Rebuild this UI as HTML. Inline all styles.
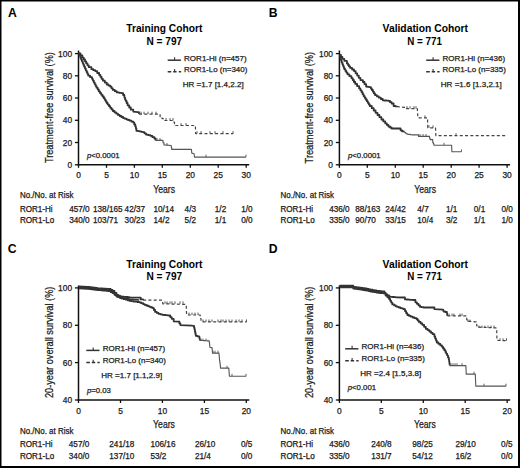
<!DOCTYPE html>
<html><head><meta charset="utf-8"><style>
html,body{margin:0;padding:0;background:#fff;}
#f{position:relative;width:520px;height:468px;overflow:hidden;}
svg{position:absolute;left:0;top:0;font-family:"Liberation Sans", sans-serif;}
</style></head><body><div id="f">
<svg width="520" height="468" viewBox="0 0 520 468">
<rect x="0" y="0" width="520" height="468" fill="#fff"/>
<text x="8.0" y="16.8" font-size="12.2" font-weight="bold" fill="#000">A</text>
<line x1="78.5" y1="50.5" x2="78.5" y2="165.4" stroke="#111" stroke-width="1.5"/>
<line x1="77.8" y1="164.8" x2="249.2" y2="164.8" stroke="#111" stroke-width="1.5"/>
<line x1="74.9" y1="164.8" x2="78.5" y2="164.8" stroke="#111" stroke-width="1.3"/>
<text x="72.1" y="167.8" font-size="8.4" text-anchor="end" fill="#1a1a1a" stroke="#1a1a1a" stroke-width="0.25">0</text>
<line x1="74.9" y1="142.5" x2="78.5" y2="142.5" stroke="#111" stroke-width="1.3"/>
<text x="72.1" y="145.5" font-size="8.4" text-anchor="end" fill="#1a1a1a" stroke="#1a1a1a" stroke-width="0.25">20</text>
<line x1="74.9" y1="120.3" x2="78.5" y2="120.3" stroke="#111" stroke-width="1.3"/>
<text x="72.1" y="123.3" font-size="8.4" text-anchor="end" fill="#1a1a1a" stroke="#1a1a1a" stroke-width="0.25">40</text>
<line x1="74.9" y1="98.0" x2="78.5" y2="98.0" stroke="#111" stroke-width="1.3"/>
<text x="72.1" y="101.0" font-size="8.4" text-anchor="end" fill="#1a1a1a" stroke="#1a1a1a" stroke-width="0.25">60</text>
<line x1="74.9" y1="75.8" x2="78.5" y2="75.8" stroke="#111" stroke-width="1.3"/>
<text x="72.1" y="78.8" font-size="8.4" text-anchor="end" fill="#1a1a1a" stroke="#1a1a1a" stroke-width="0.25">80</text>
<line x1="74.9" y1="53.6" x2="78.5" y2="53.6" stroke="#111" stroke-width="1.3"/>
<text x="72.1" y="56.6" font-size="8.4" text-anchor="end" fill="#1a1a1a" stroke="#1a1a1a" stroke-width="0.25">100</text>
<line x1="78.5" y1="164.8" x2="78.5" y2="167.8" stroke="#111" stroke-width="1.3"/>
<text x="78.5" y="178.4" font-size="8.4" text-anchor="middle" fill="#1a1a1a" stroke="#1a1a1a" stroke-width="0.25">0</text>
<line x1="106.5" y1="164.8" x2="106.5" y2="167.8" stroke="#111" stroke-width="1.3"/>
<text x="106.5" y="178.4" font-size="8.4" text-anchor="middle" fill="#1a1a1a" stroke="#1a1a1a" stroke-width="0.25">5</text>
<line x1="134.4" y1="164.8" x2="134.4" y2="167.8" stroke="#111" stroke-width="1.3"/>
<text x="134.4" y="178.4" font-size="8.4" text-anchor="middle" fill="#1a1a1a" stroke="#1a1a1a" stroke-width="0.25">10</text>
<line x1="162.3" y1="164.8" x2="162.3" y2="167.8" stroke="#111" stroke-width="1.3"/>
<text x="162.3" y="178.4" font-size="8.4" text-anchor="middle" fill="#1a1a1a" stroke="#1a1a1a" stroke-width="0.25">15</text>
<line x1="190.3" y1="164.8" x2="190.3" y2="167.8" stroke="#111" stroke-width="1.3"/>
<text x="190.3" y="178.4" font-size="8.4" text-anchor="middle" fill="#1a1a1a" stroke="#1a1a1a" stroke-width="0.25">20</text>
<line x1="218.2" y1="164.8" x2="218.2" y2="167.8" stroke="#111" stroke-width="1.3"/>
<text x="218.2" y="178.4" font-size="8.4" text-anchor="middle" fill="#1a1a1a" stroke="#1a1a1a" stroke-width="0.25">25</text>
<line x1="246.2" y1="164.8" x2="246.2" y2="167.8" stroke="#111" stroke-width="1.3"/>
<text x="246.2" y="178.4" font-size="8.4" text-anchor="middle" fill="#1a1a1a" stroke="#1a1a1a" stroke-width="0.25">30</text>
<text x="164.3" y="32.1" font-size="11.6" text-anchor="middle" font-weight="bold" textLength="76" lengthAdjust="spacingAndGlyphs" fill="#000">Training Cohort</text>
<text x="164.3" y="45.0" font-size="11.6" text-anchor="middle" font-weight="bold" textLength="35.6" lengthAdjust="spacingAndGlyphs" fill="#000">N = 797</text>
<text x="268.8" y="16.8" font-size="12.2" font-weight="bold" fill="#000">B</text>
<line x1="339.4" y1="50.5" x2="339.4" y2="165.4" stroke="#111" stroke-width="1.5"/>
<line x1="338.7" y1="164.8" x2="510.1" y2="164.8" stroke="#111" stroke-width="1.5"/>
<line x1="335.8" y1="164.8" x2="339.4" y2="164.8" stroke="#111" stroke-width="1.3"/>
<text x="333.0" y="167.8" font-size="8.4" text-anchor="end" fill="#1a1a1a" stroke="#1a1a1a" stroke-width="0.25">0</text>
<line x1="335.8" y1="142.5" x2="339.4" y2="142.5" stroke="#111" stroke-width="1.3"/>
<text x="333.0" y="145.5" font-size="8.4" text-anchor="end" fill="#1a1a1a" stroke="#1a1a1a" stroke-width="0.25">20</text>
<line x1="335.8" y1="120.3" x2="339.4" y2="120.3" stroke="#111" stroke-width="1.3"/>
<text x="333.0" y="123.3" font-size="8.4" text-anchor="end" fill="#1a1a1a" stroke="#1a1a1a" stroke-width="0.25">40</text>
<line x1="335.8" y1="98.0" x2="339.4" y2="98.0" stroke="#111" stroke-width="1.3"/>
<text x="333.0" y="101.0" font-size="8.4" text-anchor="end" fill="#1a1a1a" stroke="#1a1a1a" stroke-width="0.25">60</text>
<line x1="335.8" y1="75.8" x2="339.4" y2="75.8" stroke="#111" stroke-width="1.3"/>
<text x="333.0" y="78.8" font-size="8.4" text-anchor="end" fill="#1a1a1a" stroke="#1a1a1a" stroke-width="0.25">80</text>
<line x1="335.8" y1="53.6" x2="339.4" y2="53.6" stroke="#111" stroke-width="1.3"/>
<text x="333.0" y="56.6" font-size="8.4" text-anchor="end" fill="#1a1a1a" stroke="#1a1a1a" stroke-width="0.25">100</text>
<line x1="339.4" y1="164.8" x2="339.4" y2="167.8" stroke="#111" stroke-width="1.3"/>
<text x="339.4" y="178.4" font-size="8.4" text-anchor="middle" fill="#1a1a1a" stroke="#1a1a1a" stroke-width="0.25">0</text>
<line x1="367.3" y1="164.8" x2="367.3" y2="167.8" stroke="#111" stroke-width="1.3"/>
<text x="367.3" y="178.4" font-size="8.4" text-anchor="middle" fill="#1a1a1a" stroke="#1a1a1a" stroke-width="0.25">5</text>
<line x1="395.3" y1="164.8" x2="395.3" y2="167.8" stroke="#111" stroke-width="1.3"/>
<text x="395.3" y="178.4" font-size="8.4" text-anchor="middle" fill="#1a1a1a" stroke="#1a1a1a" stroke-width="0.25">10</text>
<line x1="423.2" y1="164.8" x2="423.2" y2="167.8" stroke="#111" stroke-width="1.3"/>
<text x="423.2" y="178.4" font-size="8.4" text-anchor="middle" fill="#1a1a1a" stroke="#1a1a1a" stroke-width="0.25">15</text>
<line x1="451.2" y1="164.8" x2="451.2" y2="167.8" stroke="#111" stroke-width="1.3"/>
<text x="451.2" y="178.4" font-size="8.4" text-anchor="middle" fill="#1a1a1a" stroke="#1a1a1a" stroke-width="0.25">20</text>
<line x1="479.1" y1="164.8" x2="479.1" y2="167.8" stroke="#111" stroke-width="1.3"/>
<text x="479.1" y="178.4" font-size="8.4" text-anchor="middle" fill="#1a1a1a" stroke="#1a1a1a" stroke-width="0.25">25</text>
<line x1="507.1" y1="164.8" x2="507.1" y2="167.8" stroke="#111" stroke-width="1.3"/>
<text x="507.1" y="178.4" font-size="8.4" text-anchor="middle" fill="#1a1a1a" stroke="#1a1a1a" stroke-width="0.25">30</text>
<text x="425.3" y="32.1" font-size="11.6" text-anchor="middle" font-weight="bold" textLength="85.4" lengthAdjust="spacingAndGlyphs" fill="#000">Validation Cohort</text>
<text x="424.6" y="45.0" font-size="11.6" text-anchor="middle" font-weight="bold" textLength="34.6" lengthAdjust="spacingAndGlyphs" fill="#000">N = 771</text>
<line x1="78.5" y1="285.5" x2="78.5" y2="400.7" stroke="#111" stroke-width="1.5"/>
<line x1="77.8" y1="400.0" x2="249.3" y2="400.0" stroke="#111" stroke-width="1.5"/>
<line x1="74.9" y1="400.0" x2="78.5" y2="400.0" stroke="#111" stroke-width="1.3"/>
<text x="72.1" y="403.0" font-size="8.4" text-anchor="end" fill="#1a1a1a" stroke="#1a1a1a" stroke-width="0.25">40</text>
<line x1="74.9" y1="362.6" x2="78.5" y2="362.6" stroke="#111" stroke-width="1.3"/>
<text x="72.1" y="365.6" font-size="8.4" text-anchor="end" fill="#1a1a1a" stroke="#1a1a1a" stroke-width="0.25">60</text>
<line x1="74.9" y1="325.3" x2="78.5" y2="325.3" stroke="#111" stroke-width="1.3"/>
<text x="72.1" y="328.3" font-size="8.4" text-anchor="end" fill="#1a1a1a" stroke="#1a1a1a" stroke-width="0.25">80</text>
<line x1="74.9" y1="287.9" x2="78.5" y2="287.9" stroke="#111" stroke-width="1.3"/>
<text x="72.1" y="290.9" font-size="8.4" text-anchor="end" fill="#1a1a1a" stroke="#1a1a1a" stroke-width="0.25">100</text>
<line x1="78.5" y1="400.0" x2="78.5" y2="403.0" stroke="#111" stroke-width="1.3"/>
<text x="78.5" y="413.7" font-size="8.4" text-anchor="middle" fill="#1a1a1a" stroke="#1a1a1a" stroke-width="0.25">0</text>
<line x1="120.5" y1="400.0" x2="120.5" y2="403.0" stroke="#111" stroke-width="1.3"/>
<text x="120.5" y="413.7" font-size="8.4" text-anchor="middle" fill="#1a1a1a" stroke="#1a1a1a" stroke-width="0.25">5</text>
<line x1="162.4" y1="400.0" x2="162.4" y2="403.0" stroke="#111" stroke-width="1.3"/>
<text x="162.4" y="413.7" font-size="8.4" text-anchor="middle" fill="#1a1a1a" stroke="#1a1a1a" stroke-width="0.25">10</text>
<line x1="204.4" y1="400.0" x2="204.4" y2="403.0" stroke="#111" stroke-width="1.3"/>
<text x="204.4" y="413.7" font-size="8.4" text-anchor="middle" fill="#1a1a1a" stroke="#1a1a1a" stroke-width="0.25">15</text>
<line x1="246.3" y1="400.0" x2="246.3" y2="403.0" stroke="#111" stroke-width="1.3"/>
<text x="246.3" y="413.7" font-size="8.4" text-anchor="middle" fill="#1a1a1a" stroke="#1a1a1a" stroke-width="0.25">20</text>
<line x1="339.4" y1="285.5" x2="339.4" y2="400.7" stroke="#111" stroke-width="1.5"/>
<line x1="338.7" y1="400.0" x2="510.2" y2="400.0" stroke="#111" stroke-width="1.5"/>
<line x1="335.8" y1="400.0" x2="339.4" y2="400.0" stroke="#111" stroke-width="1.3"/>
<text x="333.0" y="403.0" font-size="8.4" text-anchor="end" fill="#1a1a1a" stroke="#1a1a1a" stroke-width="0.25">40</text>
<line x1="335.8" y1="362.6" x2="339.4" y2="362.6" stroke="#111" stroke-width="1.3"/>
<text x="333.0" y="365.6" font-size="8.4" text-anchor="end" fill="#1a1a1a" stroke="#1a1a1a" stroke-width="0.25">60</text>
<line x1="335.8" y1="325.3" x2="339.4" y2="325.3" stroke="#111" stroke-width="1.3"/>
<text x="333.0" y="328.3" font-size="8.4" text-anchor="end" fill="#1a1a1a" stroke="#1a1a1a" stroke-width="0.25">80</text>
<line x1="335.8" y1="287.9" x2="339.4" y2="287.9" stroke="#111" stroke-width="1.3"/>
<text x="333.0" y="290.9" font-size="8.4" text-anchor="end" fill="#1a1a1a" stroke="#1a1a1a" stroke-width="0.25">100</text>
<line x1="339.4" y1="400.0" x2="339.4" y2="403.0" stroke="#111" stroke-width="1.3"/>
<text x="339.4" y="413.7" font-size="8.4" text-anchor="middle" fill="#1a1a1a" stroke="#1a1a1a" stroke-width="0.25">0</text>
<line x1="381.3" y1="400.0" x2="381.3" y2="403.0" stroke="#111" stroke-width="1.3"/>
<text x="381.3" y="413.7" font-size="8.4" text-anchor="middle" fill="#1a1a1a" stroke="#1a1a1a" stroke-width="0.25">5</text>
<line x1="423.3" y1="400.0" x2="423.3" y2="403.0" stroke="#111" stroke-width="1.3"/>
<text x="423.3" y="413.7" font-size="8.4" text-anchor="middle" fill="#1a1a1a" stroke="#1a1a1a" stroke-width="0.25">10</text>
<line x1="465.2" y1="400.0" x2="465.2" y2="403.0" stroke="#111" stroke-width="1.3"/>
<text x="465.2" y="413.7" font-size="8.4" text-anchor="middle" fill="#1a1a1a" stroke="#1a1a1a" stroke-width="0.25">15</text>
<line x1="507.2" y1="400.0" x2="507.2" y2="403.0" stroke="#111" stroke-width="1.3"/>
<text x="507.2" y="413.7" font-size="8.4" text-anchor="middle" fill="#1a1a1a" stroke="#1a1a1a" stroke-width="0.25">20</text>
<text x="7.8" y="252.6" font-size="12.2" font-weight="bold" fill="#000">C</text>
<text x="268.8" y="252.6" font-size="12.2" font-weight="bold" fill="#000">D</text>
<text x="164.3" y="267.7" font-size="11.6" text-anchor="middle" font-weight="bold" textLength="76" lengthAdjust="spacingAndGlyphs" fill="#000">Training Cohort</text>
<text x="164.3" y="280.0" font-size="11.6" text-anchor="middle" font-weight="bold" textLength="35.6" lengthAdjust="spacingAndGlyphs" fill="#000">N = 797</text>
<text x="425.3" y="267.7" font-size="11.6" text-anchor="middle" font-weight="bold" textLength="85.4" lengthAdjust="spacingAndGlyphs" fill="#000">Validation Cohort</text>
<text x="424.6" y="280.0" font-size="11.6" text-anchor="middle" font-weight="bold" textLength="34.6" lengthAdjust="spacingAndGlyphs" fill="#000">N = 771</text>
<text transform="translate(52.7,163.1) rotate(-90)" font-size="11" textLength="111" lengthAdjust="spacingAndGlyphs" fill="#1a1a1a" stroke="#1a1a1a" stroke-width="0.25">Treatment-free survival (%)</text>
<text transform="translate(313.2,163.4) rotate(-90)" font-size="11" textLength="111.5" lengthAdjust="spacingAndGlyphs" fill="#1a1a1a" stroke="#1a1a1a" stroke-width="0.25">Treatment-free survival (%)</text>
<text transform="translate(52.8,398.1) rotate(-90)" font-size="11" textLength="111.5" lengthAdjust="spacingAndGlyphs" fill="#1a1a1a" stroke="#1a1a1a" stroke-width="0.25">20-year overall survival (%)</text>
<text transform="translate(313.1,398.1) rotate(-90)" font-size="11" textLength="111.5" lengthAdjust="spacingAndGlyphs" fill="#1a1a1a" stroke="#1a1a1a" stroke-width="0.25">20-year overall survival (%)</text>
<text x="153.2" y="192.8" font-size="10.8" textLength="21.8" lengthAdjust="spacingAndGlyphs" fill="#1a1a1a" stroke="#1a1a1a" stroke-width="0.25">Years</text>
<text x="414.2" y="192.8" font-size="10.8" textLength="21.8" lengthAdjust="spacingAndGlyphs" fill="#1a1a1a" stroke="#1a1a1a" stroke-width="0.25">Years</text>
<text x="153.1" y="428.3" font-size="10.8" textLength="21.8" lengthAdjust="spacingAndGlyphs" fill="#1a1a1a" stroke="#1a1a1a" stroke-width="0.25">Years</text>
<text x="414.0" y="428.3" font-size="10.8" textLength="21.8" lengthAdjust="spacingAndGlyphs" fill="#1a1a1a" stroke="#1a1a1a" stroke-width="0.25">Years</text>
<text x="86.9" y="158.2" font-size="7.8" font-style="italic" fill="#1a1a1a" stroke="#1a1a1a" stroke-width="0.25">p</text>
<text x="91.2" y="158.2" font-size="7.8" fill="#1a1a1a" stroke="#1a1a1a" stroke-width="0.25">&lt;0.0001</text>
<text x="348.0" y="158.2" font-size="7.8" font-style="italic" fill="#1a1a1a" stroke="#1a1a1a" stroke-width="0.25">p</text>
<text x="352.3" y="158.2" font-size="7.8" fill="#1a1a1a" stroke="#1a1a1a" stroke-width="0.25">&lt;0.0001</text>
<text x="86.9" y="392.6" font-size="7.8" font-style="italic" fill="#1a1a1a" stroke="#1a1a1a" stroke-width="0.25">p</text>
<text x="91.2" y="392.6" font-size="7.8" fill="#1a1a1a" stroke="#1a1a1a" stroke-width="0.25">=0.03</text>
<text x="347.7" y="389.9" font-size="7.8" font-style="italic" fill="#1a1a1a" stroke="#1a1a1a" stroke-width="0.25">p</text>
<text x="352.0" y="389.9" font-size="7.8" fill="#1a1a1a" stroke="#1a1a1a" stroke-width="0.25">&lt;0.001</text>
<line x1="167.7" y1="60.2" x2="180.9" y2="60.2" stroke="#333" stroke-width="1.5"/>
<line x1="174.6" y1="60.2" x2="174.6" y2="57.2" stroke="#333" stroke-width="1.1"/>
<path d="M167.7,71.8 H181.1" stroke="#333" stroke-width="1.5" stroke-dasharray="3.6,1.9,3.4,2.2"/>
<line x1="174.6" y1="71.8" x2="174.6" y2="69.0" stroke="#333" stroke-width="1.1"/>
<text x="184.1" y="60.5" font-size="8.0" textLength="62.5" lengthAdjust="spacingAndGlyphs" fill="#1a1a1a" stroke="#1a1a1a" stroke-width="0.25">ROR1-Hi (n=457)</text>
<text x="184.1" y="72.2" font-size="8.0" textLength="63.2" lengthAdjust="spacingAndGlyphs" fill="#1a1a1a" stroke="#1a1a1a" stroke-width="0.25">ROR1-Lo (n=340)</text>
<text x="182.7" y="86.5" font-size="7.7" textLength="61" lengthAdjust="spacingAndGlyphs" fill="#1a1a1a" stroke="#1a1a1a" stroke-width="0.25">HR =1.7 [1.4,2.2]</text>
<line x1="426.2" y1="60.2" x2="439.4" y2="60.2" stroke="#333" stroke-width="1.5"/>
<line x1="433.1" y1="60.2" x2="433.1" y2="57.2" stroke="#333" stroke-width="1.1"/>
<path d="M426.2,71.8 H439.6" stroke="#333" stroke-width="1.5" stroke-dasharray="3.6,1.9,3.4,2.2"/>
<line x1="433.1" y1="71.8" x2="433.1" y2="69.0" stroke="#333" stroke-width="1.1"/>
<text x="442.6" y="60.5" font-size="8.0" textLength="62.5" lengthAdjust="spacingAndGlyphs" fill="#1a1a1a" stroke="#1a1a1a" stroke-width="0.25">ROR1-Hi (n=436)</text>
<text x="442.6" y="72.2" font-size="8.0" textLength="63.2" lengthAdjust="spacingAndGlyphs" fill="#1a1a1a" stroke="#1a1a1a" stroke-width="0.25">ROR1-Lo (n=335)</text>
<text x="440.8" y="86.7" font-size="7.7" textLength="61" lengthAdjust="spacingAndGlyphs" fill="#1a1a1a" stroke="#1a1a1a" stroke-width="0.25">HR =1.6 [1.3,2.1]</text>
<line x1="86.3" y1="350.4" x2="99.5" y2="350.4" stroke="#333" stroke-width="1.5"/>
<line x1="93.2" y1="350.4" x2="93.2" y2="347.4" stroke="#333" stroke-width="1.1"/>
<path d="M86.3,362.5 H99.7" stroke="#333" stroke-width="1.5" stroke-dasharray="3.6,1.9,3.4,2.2"/>
<line x1="93.2" y1="362.5" x2="93.2" y2="359.7" stroke="#333" stroke-width="1.1"/>
<text x="102.7" y="350.7" font-size="8.0" textLength="62.5" lengthAdjust="spacingAndGlyphs" fill="#1a1a1a" stroke="#1a1a1a" stroke-width="0.25">ROR1-Hi (n=457)</text>
<text x="102.7" y="362.9" font-size="8.0" textLength="63.2" lengthAdjust="spacingAndGlyphs" fill="#1a1a1a" stroke="#1a1a1a" stroke-width="0.25">ROR1-Lo (n=340)</text>
<text x="101.2" y="377.7" font-size="7.7" textLength="61" lengthAdjust="spacingAndGlyphs" fill="#1a1a1a" stroke="#1a1a1a" stroke-width="0.25">HR =1.7 [1.1,2.9]</text>
<line x1="345.2" y1="348.8" x2="358.4" y2="348.8" stroke="#333" stroke-width="1.5"/>
<line x1="352.1" y1="348.8" x2="352.1" y2="345.8" stroke="#333" stroke-width="1.1"/>
<path d="M345.2,360.8 H358.6" stroke="#333" stroke-width="1.5" stroke-dasharray="3.6,1.9,3.4,2.2"/>
<line x1="352.1" y1="360.8" x2="352.1" y2="358.0" stroke="#333" stroke-width="1.1"/>
<text x="361.6" y="349.1" font-size="8.0" textLength="62.5" lengthAdjust="spacingAndGlyphs" fill="#1a1a1a" stroke="#1a1a1a" stroke-width="0.25">ROR1-Hi (n=436)</text>
<text x="361.6" y="361.2" font-size="8.0" textLength="63.2" lengthAdjust="spacingAndGlyphs" fill="#1a1a1a" stroke="#1a1a1a" stroke-width="0.25">ROR1-Lo (n=335)</text>
<text x="360.2" y="376.1" font-size="7.7" textLength="61" lengthAdjust="spacingAndGlyphs" fill="#1a1a1a" stroke="#1a1a1a" stroke-width="0.25">HR =2.4 [1.5,3.8]</text>
<text x="19.9" y="198.4" font-size="8.2" textLength="53.6" lengthAdjust="spacingAndGlyphs" fill="#1a1a1a" stroke="#1a1a1a" stroke-width="0.25">No./No. at Risk</text>
<text x="19.9" y="211.6" font-size="8.2" textLength="32.6" lengthAdjust="spacingAndGlyphs" fill="#1a1a1a" stroke="#1a1a1a" stroke-width="0.25">ROR1-Hi</text>
<text x="19.9" y="223.2" font-size="8.2" textLength="34.4" lengthAdjust="spacingAndGlyphs" fill="#1a1a1a" stroke="#1a1a1a" stroke-width="0.25">ROR1-Lo</text>
<text x="69.2" y="211.6" font-size="8.2" fill="#1a1a1a" stroke="#1a1a1a" stroke-width="0.25">457/0</text>
<text x="69.2" y="223.2" font-size="8.2" fill="#1a1a1a" stroke="#1a1a1a" stroke-width="0.25">340/0</text>
<text x="93.0" y="211.6" font-size="8.2" fill="#1a1a1a" stroke="#1a1a1a" stroke-width="0.25">138/165</text>
<text x="93.0" y="223.2" font-size="8.2" fill="#1a1a1a" stroke="#1a1a1a" stroke-width="0.25">103/71</text>
<text x="124.6" y="211.6" font-size="8.2" fill="#1a1a1a" stroke="#1a1a1a" stroke-width="0.25">42/37</text>
<text x="124.6" y="223.2" font-size="8.2" fill="#1a1a1a" stroke="#1a1a1a" stroke-width="0.25">30/23</text>
<text x="153.5" y="211.6" font-size="8.2" fill="#1a1a1a" stroke="#1a1a1a" stroke-width="0.25">10/14</text>
<text x="153.5" y="223.2" font-size="8.2" fill="#1a1a1a" stroke="#1a1a1a" stroke-width="0.25">14/2</text>
<text x="184.6" y="211.6" font-size="8.2" fill="#1a1a1a" stroke="#1a1a1a" stroke-width="0.25">4/3</text>
<text x="184.6" y="223.2" font-size="8.2" fill="#1a1a1a" stroke="#1a1a1a" stroke-width="0.25">5/2</text>
<text x="214.8" y="211.6" font-size="8.2" fill="#1a1a1a" stroke="#1a1a1a" stroke-width="0.25">1/2</text>
<text x="214.8" y="223.2" font-size="8.2" fill="#1a1a1a" stroke="#1a1a1a" stroke-width="0.25">1/1</text>
<text x="241.2" y="211.6" font-size="8.2" fill="#1a1a1a" stroke="#1a1a1a" stroke-width="0.25">1/0</text>
<text x="241.2" y="223.2" font-size="8.2" fill="#1a1a1a" stroke="#1a1a1a" stroke-width="0.25">0/0</text>
<text x="280.5" y="198.4" font-size="8.2" textLength="53.6" lengthAdjust="spacingAndGlyphs" fill="#1a1a1a" stroke="#1a1a1a" stroke-width="0.25">No./No. at Risk</text>
<text x="280.5" y="211.6" font-size="8.2" textLength="32.6" lengthAdjust="spacingAndGlyphs" fill="#1a1a1a" stroke="#1a1a1a" stroke-width="0.25">ROR1-Hi</text>
<text x="280.5" y="223.2" font-size="8.2" textLength="34.4" lengthAdjust="spacingAndGlyphs" fill="#1a1a1a" stroke="#1a1a1a" stroke-width="0.25">ROR1-Lo</text>
<text x="329.2" y="211.6" font-size="8.2" fill="#1a1a1a" stroke="#1a1a1a" stroke-width="0.25">436/0</text>
<text x="329.2" y="223.2" font-size="8.2" fill="#1a1a1a" stroke="#1a1a1a" stroke-width="0.25">335/0</text>
<text x="355.3" y="211.6" font-size="8.2" fill="#1a1a1a" stroke="#1a1a1a" stroke-width="0.25">88/163</text>
<text x="355.3" y="223.2" font-size="8.2" fill="#1a1a1a" stroke="#1a1a1a" stroke-width="0.25">90/70</text>
<text x="385.3" y="211.6" font-size="8.2" fill="#1a1a1a" stroke="#1a1a1a" stroke-width="0.25">24/42</text>
<text x="385.3" y="223.2" font-size="8.2" fill="#1a1a1a" stroke="#1a1a1a" stroke-width="0.25">33/15</text>
<text x="417.3" y="211.6" font-size="8.2" fill="#1a1a1a" stroke="#1a1a1a" stroke-width="0.25">4/7</text>
<text x="417.3" y="223.2" font-size="8.2" fill="#1a1a1a" stroke="#1a1a1a" stroke-width="0.25">10/4</text>
<text x="446.0" y="211.6" font-size="8.2" fill="#1a1a1a" stroke="#1a1a1a" stroke-width="0.25">1/1</text>
<text x="446.0" y="223.2" font-size="8.2" fill="#1a1a1a" stroke="#1a1a1a" stroke-width="0.25">3/2</text>
<text x="473.8" y="211.6" font-size="8.2" fill="#1a1a1a" stroke="#1a1a1a" stroke-width="0.25">0/1</text>
<text x="473.8" y="223.2" font-size="8.2" fill="#1a1a1a" stroke="#1a1a1a" stroke-width="0.25">1/1</text>
<text x="501.5" y="211.6" font-size="8.2" fill="#1a1a1a" stroke="#1a1a1a" stroke-width="0.25">0/0</text>
<text x="501.5" y="223.2" font-size="8.2" fill="#1a1a1a" stroke="#1a1a1a" stroke-width="0.25">1/0</text>
<text x="19.9" y="433.9" font-size="8.2" textLength="53.6" lengthAdjust="spacingAndGlyphs" fill="#1a1a1a" stroke="#1a1a1a" stroke-width="0.25">No./No. at Risk</text>
<text x="19.9" y="447.1" font-size="8.2" textLength="32.6" lengthAdjust="spacingAndGlyphs" fill="#1a1a1a" stroke="#1a1a1a" stroke-width="0.25">ROR1-Hi</text>
<text x="19.9" y="458.7" font-size="8.2" textLength="34.4" lengthAdjust="spacingAndGlyphs" fill="#1a1a1a" stroke="#1a1a1a" stroke-width="0.25">ROR1-Lo</text>
<text x="68.8" y="447.1" font-size="8.2" fill="#1a1a1a" stroke="#1a1a1a" stroke-width="0.25">457/0</text>
<text x="68.8" y="458.7" font-size="8.2" fill="#1a1a1a" stroke="#1a1a1a" stroke-width="0.25">340/0</text>
<text x="109.3" y="447.1" font-size="8.2" fill="#1a1a1a" stroke="#1a1a1a" stroke-width="0.25">241/18</text>
<text x="109.3" y="458.7" font-size="8.2" fill="#1a1a1a" stroke="#1a1a1a" stroke-width="0.25">137/10</text>
<text x="150.4" y="447.1" font-size="8.2" fill="#1a1a1a" stroke="#1a1a1a" stroke-width="0.25">106/16</text>
<text x="150.4" y="458.7" font-size="8.2" fill="#1a1a1a" stroke="#1a1a1a" stroke-width="0.25">53/2</text>
<text x="194.9" y="447.1" font-size="8.2" fill="#1a1a1a" stroke="#1a1a1a" stroke-width="0.25">26/10</text>
<text x="194.9" y="458.7" font-size="8.2" fill="#1a1a1a" stroke="#1a1a1a" stroke-width="0.25">21/4</text>
<text x="240.9" y="447.1" font-size="8.2" fill="#1a1a1a" stroke="#1a1a1a" stroke-width="0.25">0/5</text>
<text x="240.9" y="458.7" font-size="8.2" fill="#1a1a1a" stroke="#1a1a1a" stroke-width="0.25">0/0</text>
<text x="280.5" y="433.9" font-size="8.2" textLength="53.6" lengthAdjust="spacingAndGlyphs" fill="#1a1a1a" stroke="#1a1a1a" stroke-width="0.25">No./No. at Risk</text>
<text x="280.5" y="447.1" font-size="8.2" textLength="32.6" lengthAdjust="spacingAndGlyphs" fill="#1a1a1a" stroke="#1a1a1a" stroke-width="0.25">ROR1-Hi</text>
<text x="280.5" y="458.7" font-size="8.2" textLength="34.4" lengthAdjust="spacingAndGlyphs" fill="#1a1a1a" stroke="#1a1a1a" stroke-width="0.25">ROR1-Lo</text>
<text x="329.2" y="447.1" font-size="8.2" fill="#1a1a1a" stroke="#1a1a1a" stroke-width="0.25">436/0</text>
<text x="329.2" y="458.7" font-size="8.2" fill="#1a1a1a" stroke="#1a1a1a" stroke-width="0.25">335/0</text>
<text x="371.2" y="447.1" font-size="8.2" fill="#1a1a1a" stroke="#1a1a1a" stroke-width="0.25">240/8</text>
<text x="371.2" y="458.7" font-size="8.2" fill="#1a1a1a" stroke="#1a1a1a" stroke-width="0.25">131/7</text>
<text x="412.3" y="447.1" font-size="8.2" fill="#1a1a1a" stroke="#1a1a1a" stroke-width="0.25">98/25</text>
<text x="412.3" y="458.7" font-size="8.2" fill="#1a1a1a" stroke="#1a1a1a" stroke-width="0.25">54/12</text>
<text x="455.4" y="447.1" font-size="8.2" fill="#1a1a1a" stroke="#1a1a1a" stroke-width="0.25">29/10</text>
<text x="455.4" y="458.7" font-size="8.2" fill="#1a1a1a" stroke="#1a1a1a" stroke-width="0.25">16/2</text>
<text x="501.1" y="447.1" font-size="8.2" fill="#1a1a1a" stroke="#1a1a1a" stroke-width="0.25">0/5</text>
<text x="501.1" y="458.7" font-size="8.2" fill="#1a1a1a" stroke="#1a1a1a" stroke-width="0.25">0/0</text>
<path d="M78.9,287.4 L87.5,287.9 L97.2,289.1 L104.8,289.6 L108.8,290.0 L112.5,292.0 L116.5,295.6 L120.0,297.2 L129.6,299.1 L139.2,300.0" fill="none" stroke="#333" stroke-width="1.6" stroke-linejoin="round"/>
<path d="M339.5,286.5 L352.2,286.5 L353.3,287.7 L359.1,288.5 L364.8,289.4 L370.6,290.6 L376.4,291.7 L383.3,292.4" fill="none" stroke="#333" stroke-width="1.6" stroke-linejoin="round"/>
<path d="M78.6,53.4 L80.5,53.4 L80.5,55.5 L82.4,55.5 L82.4,57.6 L83.7,57.6 L83.7,59.5 L85.0,59.5 L85.0,61.4 L86.2,61.4 L86.2,63.4 L87.5,63.4 L87.5,65.3 L88.8,65.3 L88.8,67.2 L91.4,67.2 L91.4,69.2 L93.3,69.2 L93.3,70.2 L95.2,70.2 L95.2,71.1 L97.2,71.1 L97.2,73.0 L99.1,73.0 L99.1,74.9 L100.4,74.9 L100.4,76.8 L101.6,76.8 L101.6,78.8 L102.9,78.8 L102.9,80.7 L104.8,80.7 L104.8,82.6 L106.8,82.6 L106.8,84.5 L108.5,84.5 L108.5,85.6 L110.3,85.6 L110.3,86.7 L111.5,86.7 L111.5,88.3 L112.8,88.3 L112.8,89.9 L114.8,89.9 L114.8,91.2 L116.7,91.2 L116.7,92.4 L119.0,92.4 L119.0,92.8 L121.2,92.8 L121.2,93.1 L123.1,93.1 L123.1,95.0 L124.4,95.0 L124.4,97.6 L125.0,97.6 L125.0,99.2 L125.6,99.2 L125.6,100.8 L126.6,100.8 L126.6,103.0 L127.6,103.0 L127.6,105.3 L129.2,105.3 L129.2,107.5 L130.8,107.5 L130.8,109.7 L133.3,109.7 L133.3,111.7 L137.7,112.2 L139.0,112.2 L139.0,114.1" fill="none" stroke="#333" stroke-width="1.8" stroke-linejoin="round"/>
<path d="M139.0,114.1 L158.2,114.1 L160.1,114.1 L160.1,116.7 L162.0,116.7 L162.0,118.6 L163.3,118.6 L163.3,120.5 L173.6,120.5 L174.0,120.5 L174.0,122.2 L174.5,122.2 L174.5,123.8 L174.9,123.8 L174.9,125.5 L195.4,125.5 L195.6,133.6 L233.2,133.6" fill="none" stroke="#444" stroke-width="1.2" stroke-dasharray="3,2.3" stroke-linejoin="round"/>
<path d="M78.6,53.4 L79.4,53.4 L79.4,55.4 L80.3,55.4 L80.3,57.5 L81.1,57.5 L81.1,59.5 L81.9,59.5 L81.9,61.3 L82.7,61.3 L82.7,63.1 L83.4,63.1 L83.4,64.9 L84.2,64.9 L84.2,66.7 L85.0,66.7 L85.0,68.5 L85.8,68.5 L85.8,70.3 L86.6,70.3 L86.6,72.0 L87.4,72.0 L87.4,73.8 L88.2,73.8 L88.2,75.6 L90.1,75.6 L90.1,77.2 L92.0,77.2 L92.0,78.8 L92.9,78.8 L92.9,80.6 L93.8,80.6 L93.8,82.4 L94.7,82.4 L94.7,84.1 L95.6,84.1 L95.6,85.9 L96.5,85.9 L96.5,87.7 L97.7,87.7 L97.7,89.5 L98.8,89.5 L98.8,91.3 L100.0,91.3 L100.0,93.1 L101.3,93.1 L101.3,94.8 L102.5,94.8 L102.5,96.5 L103.8,96.5 L103.8,98.2 L104.8,98.2 L104.8,99.8 L105.8,99.8 L105.8,101.4 L106.7,101.4 L106.7,103.0 L107.7,103.0 L107.7,104.6 L109.0,104.6 L109.0,106.2 L110.2,106.2 L110.2,107.8 L111.5,107.8 L111.5,109.4 L112.8,109.4 L112.8,111.0 L114.5,111.0 L114.5,112.3 L116.2,112.3 L116.2,113.6 L117.9,113.6 L117.9,114.9 L119.6,114.9 L119.6,116.0 L121.4,116.0 L121.4,117.0 L123.1,117.0 L123.1,118.1 L124.7,118.1 L124.7,118.7 L126.3,118.7 L126.3,119.3 L127.9,119.3 L127.9,120.0 L129.5,120.0 L129.5,120.6 L131.4,120.6 L131.4,121.6 L133.3,121.6 L133.3,122.6 L134.3,122.6 L134.3,124.5 L135.3,124.5 L135.3,126.4 L135.9,126.4 L135.9,128.6 L136.4,128.6 L136.4,130.8 L138.0,130.8 L138.0,131.1 L139.6,131.1 L139.6,131.4 L141.2,131.4 L141.2,131.8 L142.8,131.8 L142.8,132.1 L144.4,132.1 L144.4,133.3 L146.0,133.3 L146.0,134.6 L148.2,134.6 L148.2,135.2 L150.5,135.2 L150.5,135.9 L152.4,135.9 L152.4,137.2 L154.4,137.2 L154.4,138.5 L155.6,138.5 L155.6,140.4" fill="none" stroke="#333" stroke-width="1.8" stroke-linejoin="round"/>
<path d="M155.6,140.4 L162.0,140.4 L163.0,140.4 L163.0,142.7 L164.0,142.7 L164.0,144.9 L171.0,145.5 L171.3,145.5 L171.3,147.4 L171.7,147.4 L171.7,149.4 L191.4,149.4 L191.8,153.1 L194.1,153.7 L194.5,157.1 L246.0,157.1" fill="none" stroke="#555" stroke-width="1.1" stroke-linejoin="round"/>
<path d="M339.6,55.0 L341.0,55.0 L341.0,57.0 L342.4,57.0 L342.4,58.9 L344.3,58.9 L344.3,60.8 L346.9,60.8 L346.9,63.4 L348.0,63.4 L348.0,64.9 L349.0,64.9 L349.0,66.4 L350.1,66.4 L350.1,67.9 L352.1,67.9 L352.1,69.5 L354.0,69.5 L354.0,71.1 L355.6,71.1 L355.6,73.3 L357.2,73.3 L357.2,75.6 L358.8,75.6 L358.8,77.8 L360.4,77.8 L360.4,80.1 L362.9,80.1 L362.9,82.0 L364.5,82.0 L364.5,84.2 L366.1,84.2 L366.1,86.5 L370.0,87.1 L370.9,87.1 L370.9,88.5 L371.8,88.5 L371.8,90.0 L372.9,90.0 L372.9,91.7 L373.9,91.7 L373.9,93.4 L375.0,93.4 L375.0,95.1 L376.9,95.1 L376.9,96.4 L378.8,96.4 L378.8,97.7 L380.8,97.7 L380.8,99.0 L382.7,99.0 L382.7,100.3 L384.6,100.3 L384.6,100.5 L386.5,100.5 L386.5,100.7 L388.4,100.7 L388.4,100.9 L390.0,100.9 L390.0,102.2 L391.6,102.2 L391.6,103.5 L393.6,103.5 L393.6,106.0 L395.2,106.0 L395.2,106.3 L396.8,106.3 L396.8,106.7" fill="none" stroke="#333" stroke-width="1.8" stroke-linejoin="round"/>
<path d="M396.8,106.7 L404.5,107.3 L405.7,107.3 L405.7,108.6 L417.3,108.6 L417.9,117.8 L427.5,117.8 L427.8,127.8 L435.5,127.8 L435.9,135.7 L506.0,135.7" fill="none" stroke="#444" stroke-width="1.2" stroke-dasharray="3,2.3" stroke-linejoin="round"/>
<path d="M339.6,55.0 L340.1,55.0 L340.1,56.9 L340.6,56.9 L340.6,58.9 L341.1,58.9 L341.1,60.8 L341.7,60.8 L341.7,62.5 L342.4,62.5 L342.4,64.2 L343.0,64.2 L343.0,65.8 L343.7,65.8 L343.7,67.5 L344.3,67.5 L344.3,69.2 L345.4,69.2 L345.4,70.9 L346.4,70.9 L346.4,72.6 L347.5,72.6 L347.5,74.3 L349.4,74.3 L349.4,76.2 L351.4,76.2 L351.4,78.1 L352.7,78.1 L352.7,80.0 L353.9,80.0 L353.9,82.0 L355.2,82.0 L355.2,83.9 L357.1,83.9 L357.1,86.2 L359.1,86.2 L359.1,88.4 L360.4,88.4 L360.4,90.3 L361.6,90.3 L361.6,92.2 L362.6,92.2 L362.6,94.2 L363.6,94.2 L363.6,96.1 L364.7,96.1 L364.7,97.8 L365.7,97.8 L365.7,99.5 L366.8,99.5 L366.8,101.2 L367.8,101.2 L367.8,102.8 L368.8,102.8 L368.8,104.4 L369.8,104.4 L369.8,106.0 L371.8,106.0 L371.8,108.2 L373.7,108.2 L373.7,110.5 L375.6,110.5 L375.6,112.8 L377.5,112.8 L377.5,115.0 L379.4,115.0 L379.4,117.2 L381.4,117.2 L381.4,119.5 L383.3,119.5 L383.3,121.4 L385.2,121.4 L385.2,123.3 L386.8,123.3 L386.8,124.9 L388.4,124.9 L388.4,126.5 L390.0,126.5 L390.0,127.5 L391.6,127.5 L391.6,128.5 L398.0,128.5 L400.6,128.5 L400.6,130.4 L402.2,130.4 L402.2,131.4 L403.8,131.4 L403.8,132.3" fill="none" stroke="#333" stroke-width="1.8" stroke-linejoin="round"/>
<path d="M403.8,132.3 L405.4,132.3 L405.4,133.2 L407.0,133.2 L407.0,134.2 L408.7,134.2 L408.7,134.4 L410.5,134.4 L410.5,134.7 L412.2,134.7 L412.2,134.9 L417.3,134.9 L418.6,134.9 L418.6,136.4 L428.8,136.4 L429.5,136.4 L429.5,138.0 L430.1,138.0 L430.1,139.6 L432.7,139.6 L432.7,142.2 L433.3,142.2 L433.3,143.7 L433.9,143.7 L433.9,145.2 L451.6,145.2 L451.9,151.8 L461.5,151.8" fill="none" stroke="#555" stroke-width="1.1" stroke-linejoin="round"/>
<path d="M78.9,286.5 L87.5,287.0 L89.4,287.0 L89.4,287.2 L91.4,287.2 L91.4,287.4 L93.3,287.4 L93.3,287.7 L95.3,287.7 L95.3,287.9 L97.2,287.9 L97.2,288.1 L104.8,288.6 L108.8,289.0 L110.7,289.0 L110.7,290.0 L112.5,290.0 L112.5,291.0 L114.5,291.0 L114.5,292.9 L116.5,292.9 L116.5,294.8 L118.2,294.8 L118.2,295.6 L120.0,295.6 L120.0,296.5 L121.9,296.5 L121.9,296.7 L123.8,296.7 L123.8,296.8 L125.8,296.8 L125.8,297.0 L127.7,297.0 L127.7,297.1 L129.6,297.1 L129.6,297.3 L139.2,297.7 L140.7,297.7 L140.7,299.4 L143.1,299.4 L143.1,300.2" fill="none" stroke="#333" stroke-width="1.8" stroke-linejoin="round"/>
<path d="M143.1,300.2 L162.5,300.2 L162.8,303.8 L186.2,304.4 L186.6,315.0 L199.8,315.0 L200.2,315.0 L200.2,316.7 L200.6,316.7 L200.6,318.5 L201.0,318.5 L201.0,320.2 L201.5,321.9 L246.5,321.9" fill="none" stroke="#444" stroke-width="1.2" stroke-dasharray="3,2.3" stroke-linejoin="round"/>
<path d="M78.9,288.4 L87.5,288.9 L89.4,288.9 L89.4,289.1 L91.4,289.1 L91.4,289.3 L93.3,289.3 L93.3,289.6 L95.3,289.6 L95.3,289.8 L97.2,289.8 L97.2,290.0 L99.1,290.0 L99.1,290.1 L101.0,290.1 L101.0,290.3 L102.9,290.3 L102.9,290.5 L104.8,290.5 L104.8,290.6 L108.8,291.0 L110.7,291.0 L110.7,292.0 L112.5,292.0 L112.5,293.0 L114.5,293.0 L114.5,294.8 L116.5,294.8 L116.5,296.5 L118.2,296.5 L118.2,297.2 L120.0,297.2 L120.0,298.0 L121.9,298.0 L121.9,298.6 L123.8,298.6 L123.8,299.2 L125.8,299.2 L125.8,299.7 L127.7,299.7 L127.7,300.3 L129.6,300.3 L129.6,300.9 L131.5,300.9 L131.5,301.2 L133.4,301.2 L133.4,301.5 L135.4,301.5 L135.4,301.7 L137.3,301.7 L137.3,302.0 L139.2,302.0 L139.2,302.3 L141.1,302.3 L141.1,303.2 L143.1,303.2 L143.1,304.2 L144.7,304.2 L144.7,304.9 L146.3,304.9 L146.3,305.5 L147.9,305.5 L147.9,306.2 L149.5,306.2 L149.5,306.8 L151.1,306.8 L151.1,307.5 L152.7,307.5 L152.7,308.1 L153.9,308.1 L153.9,310.0 L155.1,310.0 L155.1,311.9 L156.8,311.9 L156.8,312.9 L158.5,312.9 L158.5,313.8 L160.4,313.8 L160.4,314.3 L162.3,314.3 L162.3,314.8 L163.9,314.8 L163.9,315.0 L165.6,315.0 L165.6,315.1 L167.2,315.1 L167.2,315.3 L168.8,315.3 L168.8,315.5 L170.2,315.5 L170.2,317.1 L171.7,317.1 L171.7,318.8 L173.7,318.8 L173.7,321.3 L178.5,321.7 L179.4,321.7 L179.4,323.4 L180.4,323.4 L180.4,325.1 L191.9,325.6 L193.5,326.0 L194.1,326.0 L194.1,328.0 L194.6,328.0 L194.6,330.0 L195.0,330.0 L195.0,331.9 L195.4,331.9 L195.4,333.9 L195.8,333.9 L195.8,335.8 L197.5,335.8 L197.5,336.4 L199.2,336.4 L199.2,336.9 L199.5,336.9 L199.5,338.6 L199.8,338.6 L199.8,340.4" fill="none" stroke="#333" stroke-width="1.8" stroke-linejoin="round"/>
<path d="M199.8,340.4 L201.7,340.4 L201.7,340.5 L203.6,340.5 L203.6,340.6 L205.4,340.6 L205.4,340.8 L207.3,340.8 L207.3,340.9 L209.2,340.9 L209.2,341.0 L209.3,341.0 L209.3,342.6 L209.5,342.6 L209.5,344.1 L209.7,344.1 L209.7,345.7 L209.8,345.7 L209.8,347.3 L212.1,347.9 L212.5,353.1 L219.0,353.1 L219.6,360.6 L219.8,360.6 L219.8,362.5 L220.1,362.5 L220.1,364.4 L220.3,364.4 L220.3,366.2 L220.5,366.2 L220.5,368.1 L228.8,368.1 L229.4,376.2 L246.2,376.2" fill="none" stroke="#555" stroke-width="1.1" stroke-linejoin="round"/>
<path d="M339.5,285.7 L352.2,285.7 L353.3,285.7 L353.3,286.8 L355.2,286.8 L355.2,287.1 L357.2,287.1 L357.2,287.3 L359.1,287.3 L359.1,287.6 L361.0,287.6 L361.0,287.9 L362.9,287.9 L362.9,288.2 L364.8,288.2 L364.8,288.5 L366.7,288.5 L366.7,288.9 L368.7,288.9 L368.7,289.3 L370.6,289.3 L370.6,289.7 L372.5,289.7 L372.5,290.1 L374.5,290.1 L374.5,290.4 L376.4,290.4 L376.4,290.8 L378.1,290.8 L378.1,291.0 L379.9,291.0 L379.9,291.1 L381.6,291.1 L381.6,291.3 L383.3,291.3 L383.3,291.5 L384.5,291.5 L384.5,292.9 L385.6,292.9 L385.6,294.4 L387.4,294.4 L387.4,295.5 L389.1,295.5 L389.1,296.7 L390.8,296.7 L390.8,296.9 L392.6,296.9 L392.6,297.0 L394.3,297.0 L394.3,297.1 L396.0,297.1 L396.0,297.3 L403.8,297.5 L405.0,297.5 L405.0,299.4 L406.6,299.4 L406.6,299.5 L408.2,299.5 L408.2,299.6 L409.9,299.6 L409.9,299.8 L411.5,299.8 L411.5,299.9 L413.1,299.9 L413.1,300.0 L415.4,300.0 L415.4,302.3 L416.9,302.3 L416.9,303.8 L418.5,303.8 L418.5,305.4 L420.0,305.4 L420.0,306.9 L421.8,306.9 L421.8,307.2 L423.5,307.2 L423.5,307.5 L433.5,307.3 L434.4,307.3 L434.4,309.1 L443.1,309.6 L443.6,311.5 L445.2,311.5 L445.2,312.0 L446.9,312.0 L446.9,312.5 L447.4,315.9" fill="none" stroke="#333" stroke-width="1.8" stroke-linejoin="round"/>
<path d="M447.4,315.9 L466.2,315.9 L466.5,315.9 L466.5,317.6 L466.7,317.6 L466.7,319.4 L467.0,319.4 L467.0,321.1 L468.8,321.1 L468.8,321.3 L470.7,321.3 L470.7,321.5 L472.5,321.5 L472.5,321.6 L474.4,321.6 L474.4,321.8 L476.2,321.8 L476.2,322.0 L476.5,322.0 L476.5,323.7 L476.7,323.7 L476.7,325.4 L477.0,325.4 L477.0,327.1 L478.9,327.1 L478.9,327.2 L480.8,327.2 L480.8,327.3 L482.6,327.3 L482.6,327.4 L484.5,327.4 L484.5,327.5 L486.4,327.5 L486.4,327.6 L488.3,327.6 L488.3,327.6 L490.2,327.6 L490.2,327.7 L492.0,327.7 L492.0,327.8 L493.9,327.8 L493.9,327.9 L495.8,327.9 L495.8,328.0 L496.7,328.0 L496.7,330.5 L497.0,340.4 L506.9,340.7" fill="none" stroke="#444" stroke-width="1.2" stroke-dasharray="3,2.3" stroke-linejoin="round"/>
<path d="M339.5,287.4 L352.2,287.4 L353.3,287.4 L353.3,288.6 L355.2,288.6 L355.2,288.9 L357.2,288.9 L357.2,289.1 L359.1,289.1 L359.1,289.4 L361.0,289.4 L361.0,289.7 L362.9,289.7 L362.9,290.0 L364.8,290.0 L364.8,290.3 L366.7,290.3 L366.7,290.7 L368.7,290.7 L368.7,291.1 L370.6,291.1 L370.6,291.5 L372.5,291.5 L372.5,291.9 L374.5,291.9 L374.5,292.2 L376.4,292.2 L376.4,292.6 L378.1,292.6 L378.1,292.8 L379.9,292.8 L379.9,293.0 L381.6,293.0 L381.6,293.1 L383.3,293.1 L383.3,293.3 L385.6,293.3 L385.6,295.6 L387.4,295.6 L387.4,297.3 L389.1,297.3 L389.1,299.0 L390.2,299.0 L390.2,300.8 L391.2,300.8 L391.2,302.6 L392.3,302.6 L392.3,304.4 L394.1,304.4 L394.1,305.4 L395.8,305.4 L395.8,306.3 L397.3,306.3 L397.3,306.9 L398.9,306.9 L398.9,307.5 L400.4,307.5 L400.4,308.1 L402.1,308.1 L402.1,308.6 L403.8,308.6 L403.8,309.2 L405.0,309.2 L405.0,311.1 L406.1,311.1 L406.1,313.1 L407.3,313.1 L407.3,315.0 L409.1,315.0 L409.1,315.9 L410.8,315.9 L410.8,316.7 L412.7,316.7 L412.7,317.5 L414.6,317.5 L414.6,318.2 L416.5,318.2 L416.5,319.0 L417.6,319.0 L417.6,320.4 L418.8,320.4 L418.8,321.9 L420.6,321.9 L420.6,323.4 L422.3,323.4 L422.3,324.8 L424.1,324.8 L424.1,326.8 L425.8,326.8 L425.8,328.8 L427.6,328.8 L427.6,330.1 L429.4,330.1 L429.4,331.5 L431.0,331.5 L431.0,332.8 L432.6,332.8 L432.6,334.1 L434.4,334.1 L434.4,336.5 L435.2,336.5 L435.2,338.5 L436.0,338.5 L436.0,340.5 L436.8,340.5 L436.8,342.5 L438.5,342.5 L438.5,343.9 L440.3,343.9 L440.3,345.4 L442.0,345.4 L442.0,346.8 L443.1,346.8 L443.1,348.5 L444.3,348.5 L444.3,350.2 L445.4,350.2 L445.4,351.9 L446.2,351.9 L446.2,353.6 L447.1,353.6 L447.1,355.3 L448.0,355.3 L448.0,357.5 L448.8,357.5 L448.8,359.6 L449.1,359.6 L449.1,361.6 L449.4,361.6 L449.4,363.6 L449.7,363.6 L449.7,365.6" fill="none" stroke="#333" stroke-width="1.8" stroke-linejoin="round"/>
<path d="M449.7,365.6 L465.9,365.6 L466.2,374.1 L475.3,374.1 L475.8,386.1 L506.1,386.1" fill="none" stroke="#555" stroke-width="1.1" stroke-linejoin="round"/>
<path d="M141,114.1 V111.7 M144,114.1 V111.7 M148,114.1 V111.7 M152,114.1 V111.7 M156,114.1 V111.7 M166,120.5 V118.1 M170,120.5 V118.1 M173,120.5 V118.1 M181,125.5 V123.1 M186,125.5 V123.1 M197,133.6 V131.2 M201,133.6 V131.2 M210,133.6 V131.2 M215,133.6 V131.2 M223,133.6 V131.2 M233,133.6 V131.2 M407,108.6 V106.2 M410,108.6 V106.2 M414,108.6 V106.2 M416,108.6 V106.2 M425,117.8 V115.4 M429,127.8 V125.4 M433,127.8 V125.4 M456,135.7 V133.3 M203,321.9 V319.5 M206,321.9 V319.5 M209,321.9 V319.5 M212,321.9 V319.5 M218,321.9 V319.5 M221,321.9 V319.5 M223,321.9 V319.5 M226,321.9 V319.5 M229,321.9 V319.5 M232,321.9 V319.5 M236,321.9 V319.5 M239,321.9 V319.5 M242,321.9 V319.5 M246.5,321.9 V319.5 M189,315 V312.6 M192,315 V312.6 M195,315 V312.6 M198,315 V312.6 M165,303.8 V301.4 M167,303.8 V301.4 M170,303.8 V301.4 M172,303.8 V301.4 M175,303.8 V301.4 M180,303.8 V301.4 M183,303.8 V301.4 M500,340.7 V338.3 M503,340.7 V338.3 M506.5,340.7 V338.3 M479,328 V325.6 M482,328 V325.6 M485,328 V325.6 M488,328 V325.6 M491,328 V325.6 M494,328 V325.6 M468,322 V319.6 M470,322 V319.6 M449,316 V313.6 M452,316 V313.6 M454,316 V313.6 M460,316 V313.6 M462,316 V313.6 " stroke="#444" stroke-width="0.9" fill="none"/>
<path d="M206,157.1 V154.7 M246,157.1 V154.7 M167,145.4 V143.0 M157,140.4 V138.0 M160,140.4 V138.0 M461.5,151.8 V149.4 M444,145.2 V142.8 M420,136.4 V134.0 M423,136.4 V134.0 M426,136.4 V134.0 M232,376.2 V373.8 M246,376.2 V373.8 M227,368.1 V365.7 M213,353.1 V350.7 M215,353.1 V350.7 M218,353.1 V350.7 M201,341 V338.6 M203,341 V338.6 M206,341 V338.6 M484,386.1 V383.7 M506,386.1 V383.7 M474,374.1 V371.7 M451,365.6 V363.2 M453,365.6 V363.2 M455,365.6 V363.2 M457,365.6 V363.2 M462,365.6 V363.2 " stroke="#555" stroke-width="0.9" fill="none"/>
<rect x="0" y="0" width="520" height="1.5" fill="#000"/><rect x="0" y="0" width="1.5" height="468" fill="#000"/><rect x="518" y="0" width="2" height="468" fill="#000"/><rect x="0" y="466" width="520" height="2" fill="#000"/>
</svg></div></body></html>
